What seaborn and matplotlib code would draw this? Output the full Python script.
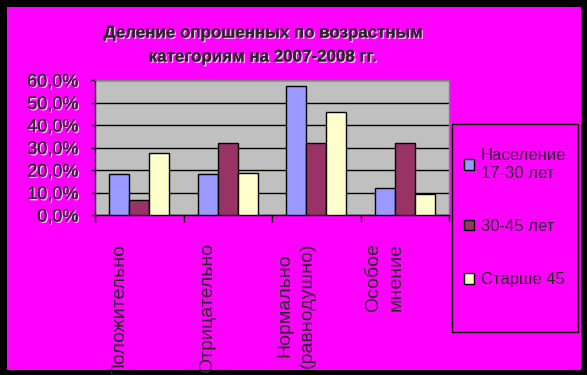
import pandas as pd
import matplotlib
matplotlib.use("Agg")
import matplotlib.pyplot as plt
import matplotlib.patheffects as pe
import matplotlib.transforms as mtransforms
from matplotlib.patches import Rectangle
from matplotlib.ticker import FuncFormatter
import seaborn as sns

categories = ['Положительно', 'Отрицательно', 'Нормально\n(равнодушно)', 'Особое\nмнение']
groups = ['Население\n17-30 лет', '30-45 лет', 'Старше 45']
young = [18.2, 18.2, 57.5, 11.9]
middle = [6.5, 31.8, 31.8, 31.8]
older = [27.4, 18.5, 45.9, 9.2]

colors = ['#9999FF', '#993366', '#FFFFCC']

df = pd.DataFrame({
    'cat': categories * 3,
    'group': [groups[0]] * 4 + [groups[1]] * 4 + [groups[2]] * 4,
    'value': young + middle + older,
})

sns.set_style('white')
plt.rcParams['font.family'] = ['Liberation Sans', 'DejaVu Sans']

fig = plt.figure(figsize=(5.87, 3.75), dpi=100)
fig.patch.set_facecolor('black')
# magenta chart area inside the black frame
fig.patches.append(Rectangle((7 / 587, 1 - 370 / 375), 574 / 587, 363 / 375,
                             transform=fig.transFigure, facecolor='#FF00FF',
                             edgecolor='none', zorder=-5))

ax = fig.add_axes([95 / 587, 1 - 215 / 375, 354 / 587, 135 / 375])
ax.set_facecolor('#C0C0C0')

sns.barplot(data=df, x='cat', y='value', hue='group', order=categories,
            hue_order=groups, palette=colors, width=0.68, edgecolor='black',
            linewidth=1, saturation=1, ax=ax, legend=True, zorder=3)

shadow = [pe.withSimplePatchShadow(offset=(1, -1), shadow_rgbFace='white', alpha=0.7),
          pe.Normal()]

ax.set_ylim(0, 60)
ax.set_xlim(-0.5, 3.5)
ax.set_yticks(range(0, 61, 10))
ax.yaxis.set_major_formatter(FuncFormatter(lambda v, p: f'{v:.1f}%'.replace('.', ',')))
ax.yaxis.grid(True, color='black', linewidth=1, zorder=1)
ax.set_axisbelow(True)
ax.tick_params(axis='y', direction='out', length=3, width=1, color='black',
               labelsize=13, pad=9, left=True)
for lab in ax.get_yticklabels():
    lab.set_path_effects(shadow)

# category ticks between groups, labels in the middle
ax.set_xticks([-0.5, 0.5, 1.5, 2.5, 3.5])
ax.set_xticklabels([])
ax.tick_params(axis='x', which='major', direction='out', length=5, width=1,
               color='black', bottom=True)
ax.set_xticks(range(4), minor=True)
ax.set_xticklabels(categories, minor=True, rotation=90, va='top', ha='center',
                   multialignment='center', fontsize=14, linespacing=1.45)
ax.tick_params(axis='x', which='minor', length=0, pad=20)
shift = mtransforms.ScaledTranslation(-0.2, 0, fig.dpi_scale_trans)
for lab in ax.get_xticklabels(minor=True):
    lab.set_transform(lab.get_transform() + shift)
ax.set_xlabel('')
ax.set_ylabel('')

for side in ['top', 'right']:
    ax.spines[side].set_color('#808080')
for side in ['left', 'bottom']:
    ax.spines[side].set_color('black')
for s in ax.spines.values():
    s.set_linewidth(1)

fig.text(262 / 587, 1 - 45 / 375,
         'Деление опрошенных по возрастным\nкатегориям на 2007-2008 гг.',
         ha='center', va='center', fontsize=12.2, fontweight='bold',
         linespacing=1.75, path_effects=shadow)

# legend box
fig.patches.append(Rectangle((452 / 587, 1 - 332 / 375), 126 / 587, 208 / 375,
                             transform=fig.transFigure, facecolor='none',
                             edgecolor='black', linewidth=1, zorder=5))
handles, labels = ax.get_legend_handles_labels()
ax.legend(handles, labels, loc='upper left',
          bbox_to_anchor=(456 / 587, 1 - 140 / 375), bbox_transform=fig.transFigure,
          frameon=False, fontsize=12, handlelength=0.6, handleheight=0.6,
          handletextpad=0.4, labelspacing=2.3, borderpad=0)

fig.savefig('out.png', dpi=100, facecolor=fig.get_facecolor())
